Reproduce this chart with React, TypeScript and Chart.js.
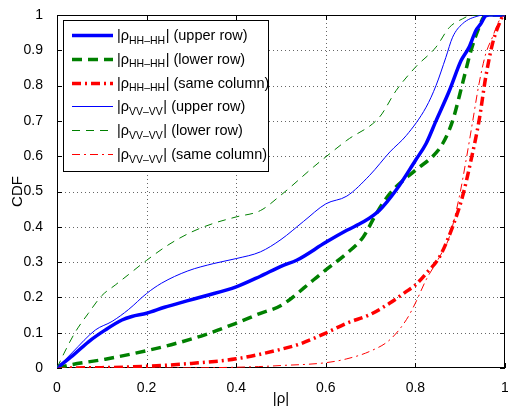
import React, { useEffect, useRef } from "react";
import { Chart, registerables } from "chart.js";

Chart.register(...registerables);

// ---------- data ----------
const hhUpperX = [0, 0.035, 0.071, 0.108, 0.145, 0.167, 0.2, 0.24, 0.29, 0.33, 0.4, 0.454, 0.5, 0.536, 0.6, 0.647, 0.684, 0.72, 0.757, 0.8, 0.824, 0.846, 0.876, 0.902, 0.92, 0.935, 0.946, 0.957, 0.965, 1];
const hhUpperY = [0, 0.035, 0.075, 0.108, 0.136, 0.146, 0.155, 0.172, 0.19, 0.204, 0.23, 0.26, 0.288, 0.306, 0.356, 0.39, 0.414, 0.447, 0.504, 0.588, 0.636, 0.7, 0.786, 0.871, 0.909, 0.956, 0.975, 0.998, 1, 1];

const hhLowerX = [0, 0.035, 0.108, 0.2, 0.255, 0.33, 0.4, 0.454, 0.5, 0.573, 0.6, 0.647, 0.684, 0.713, 0.743, 0.8, 0.839, 0.861, 0.883, 0.905, 0.924, 0.942, 0.957, 1];
const hhLowerY = [0, 0.01, 0.025, 0.049, 0.066, 0.094, 0.127, 0.155, 0.177, 0.25, 0.278, 0.325, 0.372, 0.438, 0.494, 0.56, 0.6, 0.636, 0.7, 0.805, 0.899, 0.965, 1, 1];

const hhSameX = [0, 0.1, 0.2, 0.3, 0.4, 0.5, 0.542, 0.6, 0.647, 0.698, 0.743, 0.78, 0.8, 0.824, 0.854, 0.883, 0.905, 0.924, 0.942, 0.957, 0.972, 0.987, 0.998, 1];
const hhSameY = [0, 0.001, 0.005, 0.013, 0.026, 0.053, 0.068, 0.099, 0.127, 0.151, 0.184, 0.217, 0.235, 0.268, 0.315, 0.4, 0.485, 0.588, 0.7, 0.824, 0.918, 0.975, 1, 1];

const vvUpperX = [0, 0.035, 0.086, 0.123, 0.16, 0.2, 0.233, 0.292, 0.35, 0.4, 0.454, 0.5, 0.55, 0.6, 0.647, 0.698, 0.743, 0.78, 0.824, 0.846, 0.868, 0.883, 0.905, 0.942, 0.957, 1];
const vvUpperY = [0, 0.045, 0.108, 0.132, 0.166, 0.211, 0.24, 0.275, 0.296, 0.31, 0.329, 0.364, 0.415, 0.465, 0.487, 0.546, 0.612, 0.659, 0.739, 0.8, 0.88, 0.937, 0.975, 0.998, 1, 1];

const vvLowerX = [0, 0.015, 0.04, 0.07, 0.1, 0.13, 0.16, 0.2, 0.25, 0.3, 0.35, 0.4, 0.454, 0.5, 0.573, 0.6, 0.647, 0.72, 0.757, 0.8, 0.846, 0.876, 0.905, 0.928, 1];
const vvLowerY = [0, 0.04, 0.1, 0.155, 0.205, 0.235, 0.265, 0.305, 0.35, 0.385, 0.41, 0.428, 0.446, 0.49, 0.57, 0.598, 0.645, 0.711, 0.786, 0.852, 0.909, 0.965, 0.989, 1, 1];

const vvSameX = [0, 0.2, 0.35, 0.45, 0.5, 0.6, 0.647, 0.698, 0.743, 0.78, 0.8, 0.824, 0.854, 0.876, 0.898, 0.913, 0.928, 0.942, 0.957, 0.972, 0.987, 1];
const vvSameY = [0, 0, 0.001, 0.004, 0.007, 0.015, 0.026, 0.047, 0.08, 0.137, 0.184, 0.25, 0.315, 0.372, 0.485, 0.588, 0.7, 0.805, 0.89, 0.937, 0.984, 1];

const xTickLabels = ["0", "0.2", "0.4", "0.6", "0.8", "1"];
const yTickLabels = ["0", "0.1", "0.2", "0.3", "0.4", "0.5", "0.6", "0.7", "0.8", "0.9", "1"];

const legendSubscripts = ["HH\u2013HH", "HH\u2013HH", "HH\u2013HH", "VV\u2013VV", "VV\u2013VV", "VV\u2013VV"];
const legendNotes = ["(upper row)", "(lower row)", "(same column)", "(upper row)", "(lower row)", "(same column)"];

const xTitle = "|\u03c1|";
const yTitle = "CDF";

const FONT = "'Liberation Sans', Arial, Helvetica, sans-serif";

const pts = (xs: number[], ys: number[]) => xs.map((x, i) => ({ x, y: ys[i] }));

const BLUE = "#0000ff";
const GREEN = "#008000";
const RED = "#ff0000";

const styles = [
  { color: BLUE, width: 3.5, dash: [] as number[] },
  { color: GREEN, width: 3.5, dash: [10, 6] },
  { color: RED, width: 3.5, dash: [9, 4, 2, 4] },
  { color: BLUE, width: 1, dash: [] as number[] },
  { color: GREEN, width: 1, dash: [8, 6] },
  { color: RED, width: 1, dash: [8, 4, 2, 4] },
];

const frame = {
  id: "frame",
  beforeDatasetsDraw(chart: any) {
    const { ctx, chartArea: a, scales } = chart;
    const xs = scales.x;
    const ys = scales.y;
    ctx.save();
    ctx.lineWidth = 1;
    ctx.strokeStyle = "rgba(0,0,0,0.6)";
    ctx.setLineDash([1, 3]);
    xs.ticks.forEach((t: any) => {
      if (t.value <= 0 || t.value >= 1) return;
      const px = Math.round(xs.getPixelForValue(t.value)) + 0.5;
      ctx.beginPath();
      ctx.moveTo(px, a.top);
      ctx.lineTo(px, a.bottom);
      ctx.stroke();
    });
    ys.ticks.forEach((t: any) => {
      if (t.value <= 0 || t.value >= 1) return;
      const py = Math.round(ys.getPixelForValue(t.value)) + 0.5;
      ctx.beginPath();
      ctx.moveTo(a.left, py);
      ctx.lineTo(a.right, py);
      ctx.stroke();
    });
    ctx.setLineDash([]);
    ctx.strokeStyle = "#000";
    ctx.strokeRect(Math.round(a.left) + 0.5, Math.round(a.top) + 0.5, Math.round(a.right - a.left) - 1, Math.round(a.bottom - a.top) - 1);
    const L = 5;
    xs.ticks.forEach((t: any) => {
      const px = Math.round(xs.getPixelForValue(t.value)) + 0.5;
      ctx.beginPath();
      ctx.moveTo(px, a.bottom);
      ctx.lineTo(px, a.bottom - L);
      ctx.moveTo(px, a.top);
      ctx.lineTo(px, a.top + L);
      ctx.stroke();
    });
    ys.ticks.forEach((t: any) => {
      const py = Math.round(ys.getPixelForValue(t.value)) + 0.5;
      ctx.beginPath();
      ctx.moveTo(a.left, py);
      ctx.lineTo(a.left + L, py);
      ctx.moveTo(a.right, py);
      ctx.lineTo(a.right - L, py);
      ctx.stroke();
    });
    ctx.restore();
  },
};

const legendBox = {
  id: "legendBox",
  afterDraw(chart: any) {
    const { ctx } = chart;
    const bx = 63.5, by = 20.5, bw = 205, bh = 151;
    ctx.save();
    ctx.fillStyle = "#fff";
    ctx.fillRect(bx, by, bw, bh);
    ctx.strokeStyle = "#000";
    ctx.lineWidth = 1;
    ctx.setLineDash([]);
    ctx.strokeRect(bx, by, bw, bh);
    const rowY0 = 35;
    const rowStep = 23.8;
    for (let i = 0; i < 6; i++) {
      const cy = rowY0 + i * rowStep;
      const s = styles[i];
      ctx.strokeStyle = s.color;
      ctx.lineWidth = s.width;
      ctx.setLineDash(s.dash);
      ctx.beginPath();
      ctx.moveTo(72, Math.round(cy) + 0.5);
      ctx.lineTo(113, Math.round(cy) + 0.5);
      ctx.stroke();
      ctx.setLineDash([]);
      ctx.fillStyle = "#000";
      ctx.textBaseline = "alphabetic";
      ctx.textAlign = "left";
      const base = cy + 5;
      let x = 117;
      ctx.font = `14.5px ${FONT}`;
      ctx.fillText("|\u03c1", x, base);
      x += ctx.measureText("|\u03c1").width;
      ctx.font = `10.5px ${FONT}`;
      ctx.fillText(legendSubscripts[i], x, base + 3.5);
      x += ctx.measureText(legendSubscripts[i]).width + 0.5;
      ctx.font = `14.5px ${FONT}`;
      ctx.fillText("| " + legendNotes[i], x, base);
    }
    ctx.restore();
  },
};

export default function App() {
  const ref = useRef<HTMLCanvasElement | null>(null);
  useEffect(() => {
    if (!ref.current) return;
    const series = [
      pts(hhUpperX, hhUpperY),
      pts(hhLowerX, hhLowerY),
      pts(hhSameX, hhSameY),
      pts(vvUpperX, vvUpperY),
      pts(vvLowerX, vvLowerY),
      pts(vvSameX, vvSameY),
    ];
    const chart = new Chart(ref.current, {
      type: "scatter",
      data: {
        datasets: series.map((d, i) => ({
          data: d,
          showLine: true,
          borderColor: styles[i].color,
          backgroundColor: styles[i].color,
          borderWidth: styles[i].width,
          borderDash: styles[i].dash,
          pointRadius: 0,
          cubicInterpolationMode: "monotone" as const,
          fill: false,
          order: i < 3 ? 1 : 0,
        })),
      },
      options: {
        animation: false,
        responsive: false,
        devicePixelRatio: 1,
        layout: { padding: { top: 15, right: 3, left: 0, bottom: 0 } },
        plugins: { legend: { display: false }, tooltip: { enabled: false } },
        scales: {
          x: {
            type: "linear",
            min: 0,
            max: 1,
            grid: { display: false },
            border: { display: false },
            ticks: {
              stepSize: 0.2,
              autoSkip: false,
              maxRotation: 0,
              padding: 4,
              color: "#000",
              font: { family: FONT, size: 14 },
              callback: (_v: any, i: number) => xTickLabels[i],
            },
            title: {
              display: true,
              text: xTitle,
              color: "#000",
              font: { family: FONT, size: 15, lineHeight: 1 },
              padding: { top: 0, bottom: 1 },
            },
            afterFit: (s: any) => {
              s.height = 39;
              s.paddingLeft = 0;
              s.paddingRight = 0;
            },
          },
          y: {
            type: "linear",
            min: 0,
            max: 1,
            grid: { display: false },
            border: { display: false },
            ticks: {
              stepSize: 0.1,
              autoSkip: false,
              padding: 6,
              color: "#000",
              font: { family: FONT, size: 14 },
              callback: (_v: any, i: number) => yTickLabels[i],
            },
            title: {
              display: true,
              text: yTitle,
              color: "#000",
              font: { family: FONT, size: 15, lineHeight: 1 },
              padding: { top: 10, bottom: 0 },
            },
            afterFit: (s: any) => {
              s.width = 57;
              s.paddingTop = 0;
              s.paddingBottom = 0;
            },
          },
        },
      },
      plugins: [frame, legendBox],
    } as any);
    return () => chart.destroy();
  }, []);
  return (
    <div style={{ position: "absolute", left: 0, top: 0, width: 508, height: 407, background: "#fff" }}>
      <canvas ref={ref} width={508} height={407} />
    </div>
  );
}
